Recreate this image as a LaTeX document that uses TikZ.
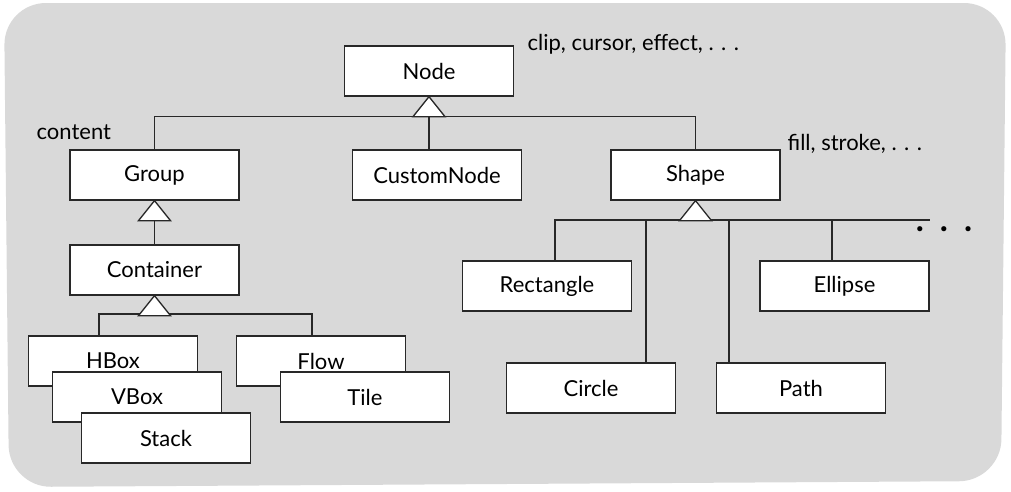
\documentclass[tikz,border=0pt]{standalone}
\usepackage{fontspec}
\usetikzlibrary{calc}
\setmainfont{Lato}
\definecolor{bgcol}{RGB}{217,217,217}
\definecolor{ln}{RGB}{40,40,40}
\begin{document}
\begin{tikzpicture}[x=1pt,y=-1pt, line width=1.3pt,
  box/.style={draw=ln, fill=white, minimum width=169pt, minimum height=50pt, inner sep=0pt, font=\fontsize{22}{26}\selectfont},
  lbl/.style={font=\fontsize{22}{26}\selectfont, inner sep=0pt, anchor=west},
  tri/.style={draw=ln, fill=white, line join=miter},
  conn/.style={draw=ln, line width=1.1pt}]
\useasboundingbox (0,0) rectangle (1011,491);
\fill[bgcol, rounded corners=42pt] (4,3) -- (1006,3) -- (1001,481) -- (9,487) -- cycle;

% top level
\node[box] (Node) at (429,71) {Node};
\node[box] (Group) at (154.5,175) {Group};
\node[box] (Custom) at (437,175) {CustomNode};
\node[box] (Shape) at (695.5,175) {Shape};
\node[box] (Container) at (154.5,270) {Container};

\node[lbl] (l1) at (527,44) {clip, cursor, effect, . . .};
\node[lbl] (l2) at (36,132) {content};
\node[lbl] (l3) at (787,144) {fill, stroke, . . .};

% Node inheritance
\coordinate (t1) at ($(Node.south)+(0,20)$);
\draw[conn] (Group.north) |- (t1) -| (Shape.north);
\draw[conn] (t1) -- (t1 |- Custom.north);
\draw[tri] (Node.south) -- ++(16,20) -- ++(-32,0) -- cycle;

% Group -> Container
\coordinate (t2) at ($(Group.south)+(0,20)$);
\draw[conn] (t2) -- (Container.north);
\draw[tri] (Group.south) -- ++(16,20) -- ++(-32,0) -- cycle;

% Container children
\node[box] (HBox) at (113,361) {HBox};
\node[box] (VBox) at (137,397) {VBox};
\node[box] (Stack) at (166,438) {Stack};
\node[box] (Flow) at (321,361) {Flow};
\node[box] (Tile) at (365,397) {Tile};
\coordinate (t3) at ($(Container.south)+(0,20)$);
\coordinate (c1) at (99,314);
\coordinate (c2) at (312,314);
\draw[conn] (c1 |- HBox.north) -- (c1) -- (c2) -- (c2 |- Flow.north);
\draw[tri] (Container.south) -- ++(16,20) -- ++(-32,0) -- cycle;

% Shape children
\node[box] (Rect) at (547,286) {Rectangle};
\node[box] (Ellipse) at (844.5,286) {Ellipse};
\node[box] (Circle) at (591,388) {Circle};
\node[box] (Path) at (801,388) {Path};
\coordinate (s0) at (555,220);
\coordinate (s1) at (646,220);
\coordinate (s2) at (729,220);
\coordinate (s3) at (832,220);
\coordinate (send) at (930,220);
\draw[conn] (s0 |- Rect.north) -- (s0) -- (send);
\draw[conn] (s1) -- (s1 |- Circle.north);
\draw[conn] (s2) -- (s2 |- Path.north);
\draw[conn] (s3) -- (s3 |- Ellipse.north);
\draw[tri] (Shape.south) -- ++(16,20) -- ++(-32,0) -- cycle;

\node[font=\fontsize{34}{36}\selectfont\bfseries, inner sep=0pt] (dots) at (944,229) {.\hspace{16pt}.\hspace{16pt}.};
\end{tikzpicture}
\end{document}
